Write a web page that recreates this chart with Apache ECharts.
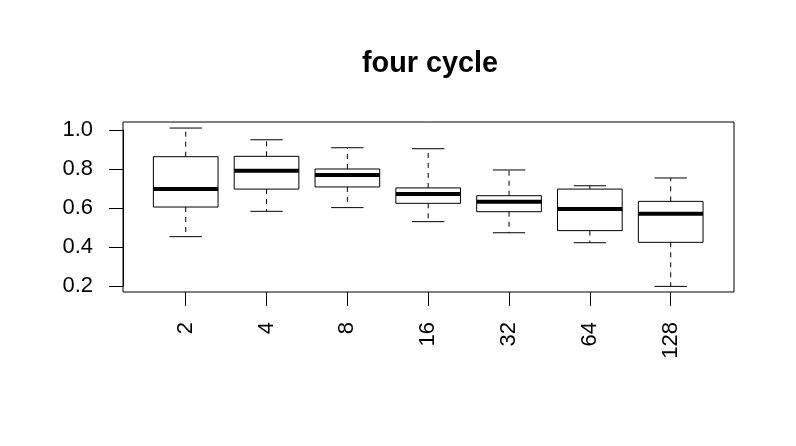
<!DOCTYPE html>
<html>
<head>
<meta charset="utf-8">
<title>four cycle</title>
<script src="https://cdn.jsdelivr.net/npm/echarts@6/dist/echarts.min.js"></script>
<style>
  html, body { margin: 0; padding: 0; background: #fff; }
  #chart { width: 796px; height: 446px; }
</style>
</head>
<body>
<div id="chart"></div>
<script>
// values
const categories = ['2', '4', '8', '16', '32', '64', '128']
const lowerWhisker = [0.453, 0.583, 0.602, 0.530, 0.473, 0.422, 0.198]
const q1 = [0.605, 0.697, 0.708, 0.624, 0.581, 0.484, 0.424]
const median = [0.697, 0.791, 0.769, 0.672, 0.632, 0.595, 0.571]
const q3 = [0.863, 0.865, 0.800, 0.703, 0.663, 0.697, 0.634]
const upperWhisker = [1.010, 0.950, 0.909, 0.904, 0.795, 0.714, 0.754]
const yTicks = [0.2, 0.4, 0.6, 0.8, 1.0]

const boxData = categories.map((c, i) => [i, lowerWhisker[i], q1[i], median[i], q3[i], upperWhisker[i]])

const FONT = 'Liberation Sans, Arial, Helvetica, sans-serif'

function renderBox(params, api) {
  const idx = api.value(0)
  const lo = api.coord([idx, api.value(1)])
  const b1 = api.coord([idx, api.value(2)])
  const md = api.coord([idx, api.value(3)])
  const b3 = api.coord([idx, api.value(4)])
  const hi = api.coord([idx, api.value(5)])
  const band = api.size([1, 0])[0]
  const half = band * 0.4
  const capHalf = band * 0.2
  const x = md[0]
  const solid = { stroke: '#000', lineWidth: 1, fill: null }
  const dashed = { stroke: '#000', lineWidth: 1, lineDash: [5, 5] }
  return {
    type: 'group',
    children: [
      // whiskers
      { type: 'line', shape: { x1: x, y1: b3[1], x2: x, y2: hi[1] }, style: dashed },
      { type: 'line', shape: { x1: x, y1: b1[1], x2: x, y2: lo[1] }, style: dashed },
      { type: 'line', shape: { x1: x - capHalf, y1: hi[1], x2: x + capHalf, y2: hi[1] }, style: solid },
      { type: 'line', shape: { x1: x - capHalf, y1: lo[1], x2: x + capHalf, y2: lo[1] }, style: solid },
      // box
      { type: 'rect', shape: { x: x - half, y: b3[1], width: half * 2, height: b1[1] - b3[1] }, style: { stroke: '#000', lineWidth: 1, fill: '#fff' } },
      // median
      { type: 'line', shape: { x1: x - half, y1: md[1], x2: x + half, y2: md[1] }, style: { stroke: '#000', lineWidth: 4 } }
    ]
  }
}

const chart = echarts.init(document.getElementById('chart'), null, { renderer: 'canvas' })
chart.setOption({
  animation: false,
  backgroundColor: '#fff',
  title: {
    text: 'four cycle',
    left: 362,
    top: 50,
    padding: 0,
    textStyle: { fontFamily: FONT, fontWeight: 'bold', fontSize: 28.8, color: '#000' }
  },
  grid: [
    // data area (box centres / ticks)
    { left: 145.3, right: 84.9, top: 130, bottom: 160 },
    // plot frame
    { left: 123, right: 62, top: 122, bottom: 154, show: true, borderColor: '#000', borderWidth: 1, backgroundColor: 'transparent' }
  ],
  xAxis: [
    {
      gridIndex: 0,
      type: 'category',
      data: categories,
      offset: 6,
      axisLine: { show: false },
      axisTick: { show: true, alignWithLabel: true, length: 14, lineStyle: { color: '#000', width: 1 } },
      axisLabel: { rotate: 90, margin: 30, fontFamily: FONT, fontSize: 22, color: '#000' },
      splitLine: { show: false }
    },
    { gridIndex: 1, type: 'value', show: false }
  ],
  yAxis: [
    {
      gridIndex: 0,
      type: 'value',
      min: yTicks[0],
      max: yTicks[yTicks.length - 1],
      interval: 0.2,
      offset: 22.3,
      axisLine: { show: true, lineStyle: { color: '#000', width: 1 } },
      axisTick: { show: true, length: 14, lineStyle: { color: '#000', width: 1 } },
      axisLabel: { margin: 30, fontFamily: FONT, fontSize: 22, color: '#000', formatter: v => v.toFixed(1) },
      splitLine: { show: false }
    },
    { gridIndex: 1, type: 'value', show: false }
  ],
  series: [
    {
      type: 'custom',
      xAxisIndex: 0,
      yAxisIndex: 0,
      clip: false,
      renderItem: renderBox,
      encode: { x: 0, y: [1, 2, 3, 4, 5] },
      data: boxData
    }
  ]
})
</script>
</body>
</html>
